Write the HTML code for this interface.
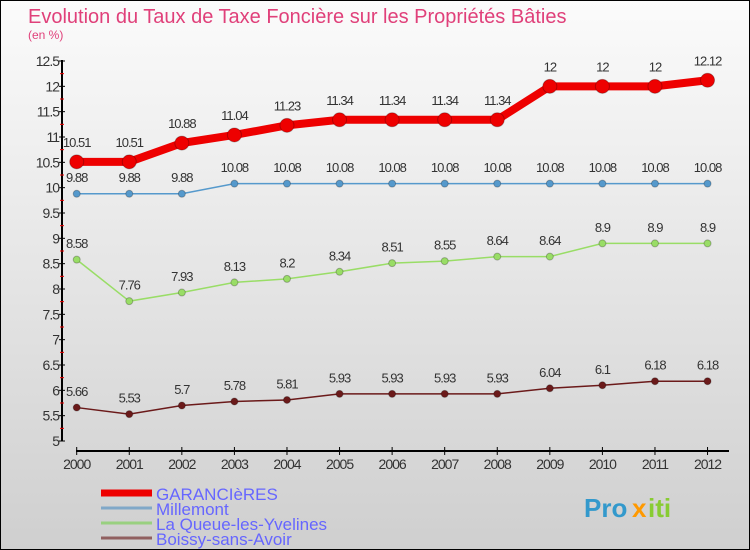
<!DOCTYPE html>
<html><head><meta charset="utf-8"><style>
body{margin:0}
#c{width:750px;height:550px;position:relative;box-sizing:border-box;border:1px solid #000;background:linear-gradient(#fbfbfb,#cfcfcf);font-family:"Liberation Sans","DejaVu Sans",sans-serif;overflow:hidden}
</style></head><body>
<div id="c">
<svg id="s" width="750" height="550" style="position:absolute;left:0;top:0"></svg>
</div>
<script>
const years=["2000","2001","2002","2003","2004","2005","2006","2007","2008","2009","2010","2011","2012"];
const garancieres=[10.51,10.51,10.88,11.04,11.23,11.34,11.34,11.34,11.34,12,12,12,12.12];
const millemont=[9.88,9.88,9.88,10.08,10.08,10.08,10.08,10.08,10.08,10.08,10.08,10.08,10.08];
const queue=[8.58,7.76,7.93,8.13,8.2,8.34,8.51,8.55,8.64,8.64,8.9,8.9,8.9];
const boissy=[5.66,5.53,5.7,5.78,5.81,5.93,5.93,5.93,5.93,6.04,6.1,6.18,6.18];
const yTicks=[5,5.5,6,6.5,7,7.5,8,8.5,9,9.5,10,10.5,11,11.5,12,12.5];
const names=["GARANCIèRES","Millemont","La Queue-les-Yvelines","Boissy-sans-Avoir"];
const s=document.getElementById('s');const NS="http://www.w3.org/2000/svg";
function el(t,a,txt){const e=document.createElementNS(NS,t);for(const k in a)e.setAttribute(k,a[k]);if(txt!==undefined)e.textContent=txt;s.appendChild(e);return e;}
const X=i=>75.7+i*52.57, Y=v=>440-(v-5)*(380/7.5);
let e;
e=el('text',{x:27,y:22,'font-size':20,fill:'#e0407a'},'Evolution du Taux de Taxe Foncière sur les Propriétés Bâties');

e=el('text',{x:27,y:38,'font-size':12,fill:'#e0407a'},'(en %)');

el('line',{x1:61,y1:59,x2:61,y2:440,stroke:'#000','stroke-width':2});
yTicks.forEach(v=>{el('line',{x1:58,x2:64,y1:Y(v),y2:Y(v),stroke:'#000'});
 if(v<12.5)el('line',{x1:59,x2:63,y1:Y(v+0.25),y2:Y(v+0.25),stroke:'#e00'});
 e=el('text',{x:58,y:Y(v)+5,'font-size':14,fill:'#333','text-anchor':'end','letter-spacing':'-1'},String(v));
 });
el('line',{x1:75,y1:450,x2:728,y2:450,stroke:'#000','stroke-width':2});
years.forEach((y,i)=>{el('line',{x1:X(i),x2:X(i),y1:446,y2:454,stroke:'#000'});
 e=el('text',{x:X(i),y:468,'font-size':14,fill:'#333','text-anchor':'middle','letter-spacing':'-1'},y);
 });
function series(d,col,w,r,nm){
 e=el('polyline',{points:d.map((v,i)=>X(i)+','+Y(v)).join(' '),fill:'none',stroke:col,'stroke-width':w});
 
 d.forEach((v,i)=>{e=el('circle',{cx:X(i),cy:Y(v),r:r,fill:col,stroke:'rgba(0,0,0,0.25)'});
  
  e=el('text',{x:X(i),y:Y(v)-(r+8),'font-size':13,fill:'#333','text-anchor':'middle','letter-spacing':'-1'},String(v));
  });
}
series(boissy,'#6b1a1a',1.5,3.5,'boissy');
series(queue,'#99dd66',1.5,3.5,'queue');
series(millemont,'#5599cc',1.5,3.5,'millemont');
series(garancieres,'#ee0000',8,7,'garancieres');
const lc=['#ee0000','#80a8c8','#99d080','#906060'],lw=[7,3,3,3];
names.forEach((n,i)=>{const y=492+i*15;
 e=el('line',{x1:100,x2:151,y1:y,y2:y,stroke:lc[i],'stroke-width':lw[i]});
 
 e=el('text',{x:155,y:y+7,'font-size':17,fill:'#6666ff'},n);
 });
e=el('text',{x:583,y:516,'font-size':26,'font-weight':'bold',fill:'#3399cc'},'Pro');

el('text',{x:631,y:516,'font-size':26,'font-weight':'bold',fill:'#ff9900'},'x');
el('text',{x:647,y:516,'font-size':26,'font-weight':'bold',fill:'#88cc33'},'iti');
</script>
</body></html>
